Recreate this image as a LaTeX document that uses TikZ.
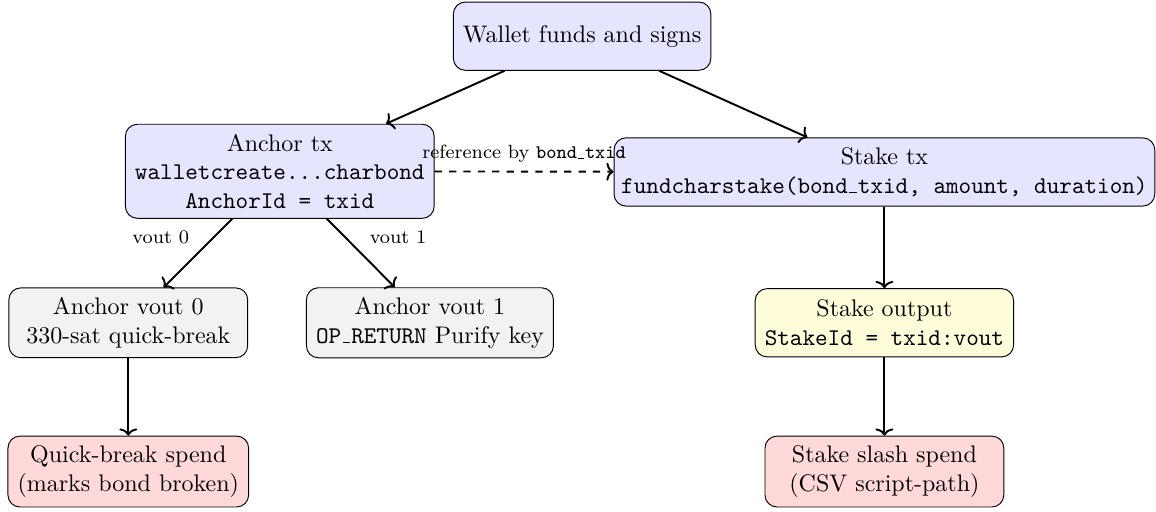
\documentclass[tikz,border=0pt]{standalone}
\usepackage{amsmath, amssymb}
\usepackage{tikz}
\usetikzlibrary{arrows.meta}

% short rule underscore for typewriter text
\newcommand{\usc}{\kern.06em\vbox{\hrule width.3em}\kern.06em}

\begin{document}
\begin{tikzpicture}
        [box/.style={rectangle, rounded corners=5pt, draw=black, align=center,
           inner sep=4pt, minimum width=3.5cm, minimum height=1cm},
        txbox/.style={box, fill=blue!10},
        outbox/.style={box, fill=gray!10},
        stakebox/.style={box, fill=yellow!15},
        spendbox/.style={box, fill=red!15},
        arr/.style={-{To[length=3pt,width=7.5pt]},thick},
        lbl/.style={font=\footnotesize}]
        \useasboundingbox (0,0) rectangle (16.94,7.50);
        \node (wallet) at (8.53, 6.97) [txbox] {Wallet funds and signs};
        \node (anchor) at (4.10, 4.99) [txbox]
           {Anchor tx\\ \texttt{walletcreate...charbond}\\ \texttt{AnchorId = txid}};
        \node (stake) at (12.96, 4.98) [txbox, inner xsep=3pt]
           {Stake tx\\ \texttt{fundcharstake(bond\usc txid, amount, duration)}};
        \node (vout0) at (1.88, 2.77) [outbox] {Anchor vout 0\\ 330-sat quick-break};
        \node (vout1) at (6.30, 2.77) [outbox] {Anchor vout 1\\ \texttt{OP\usc RETURN} Purify key};
        \node (stakeout) at (12.96, 2.77) [stakebox] {Stake output\\ \texttt{StakeId = txid:vout}};
        \node (qbreak) at (1.88, 0.59) [spendbox] {Quick-break spend\\ (marks bond broken)};
        \node (slash) at (12.96, 0.59) [spendbox] {Stake slash spend\\ (CSV script-path)};

        \path (wallet) edge[arr] (anchor)
                       edge[arr] (stake);
        \path (anchor) edge[arr] node[lbl, above left] {vout 0} (vout0)
                       edge[arr] node[lbl, above right] {vout 1} (vout1)
                       edge[arr, dashed] node[lbl, above] {reference by \texttt{bond\usc txid}} (stake);
        \path (stake) edge[arr] (stakeout);
        \path (stakeout) edge[arr] (slash);
        \path (vout0) edge[arr] (qbreak);
     \end{tikzpicture}
\end{document}
